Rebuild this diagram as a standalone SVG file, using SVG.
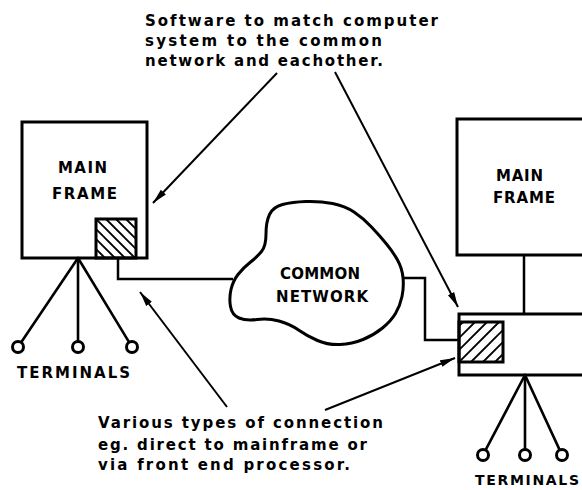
<svg xmlns="http://www.w3.org/2000/svg" width="582" height="490" viewBox="0 0 582 490">
  <style>
    .box { fill: none; stroke: #000; stroke-width: 3; }
    .wire { fill: none; stroke: #000; stroke-width: 2.5; stroke-linejoin: miter; }
    .leg { fill: none; stroke: #000; stroke-width: 2.6; stroke-linecap: round; }
    .term { fill: #fff; stroke: #000; stroke-width: 3; }
    .hatch { stroke: #000; stroke-width: 1.9; }
    .ptr { fill: none; stroke: #000; stroke-width: 2; }
    .lbl { font-family: "DejaVu Sans", "Liberation Sans", sans-serif; font-weight: bold; font-size: 15px; fill: #000; }
    .note { font-family: "DejaVu Sans", "Liberation Sans", sans-serif; font-weight: bold; font-size: 15px; fill: #000; }
  </style>
  <defs>
    <marker id="arrow" markerUnits="userSpaceOnUse" markerWidth="16" markerHeight="10" refX="15" refY="4" orient="auto">
      <path d="M0,0.5 L15,4 L0,7.5 Z" fill="#000"/>
    </marker>
    <clipPath id="clipLeftHatch"><rect x="96" y="219" width="40" height="39"/></clipPath>
    <clipPath id="clipRightHatch"><rect x="459" y="322" width="44" height="40"/></clipPath>
  </defs>

  <!-- left mainframe with its interface software block -->
  <g id="mainframe-left">
    <rect class="box" x="22" y="122" width="125" height="136"/>
    <text class="lbl" x="58" y="173" textLength="49" lengthAdjust="spacing">MAIN</text>
    <text class="lbl" x="52" y="199" textLength="65" lengthAdjust="spacing">FRAME</text>
  </g>
  <g id="interface-left">
    <g clip-path="url(#clipLeftHatch)">
      <line class="hatch" x1="56" y1="219" x2="96" y2="259"/>
      <line class="hatch" x1="66" y1="219" x2="106" y2="259"/>
      <line class="hatch" x1="76" y1="219" x2="116" y2="259"/>
      <line class="hatch" x1="86" y1="219" x2="126" y2="259"/>
      <line class="hatch" x1="96" y1="219" x2="136" y2="259"/>
      <line class="hatch" x1="106" y1="219" x2="146" y2="259"/>
      <line class="hatch" x1="116" y1="219" x2="156" y2="259"/>
      <line class="hatch" x1="126" y1="219" x2="166" y2="259"/>
    </g>
    <rect class="box" x="96" y="219" width="40" height="39"/>
  </g>

  <!-- left terminals -->
  <g id="terminals-left">
    <line class="leg" x1="78" y1="258" x2="21.4" y2="342"/>
    <line class="leg" x1="78" y1="258" x2="78" y2="341"/>
    <line class="leg" x1="78" y1="258" x2="128.9" y2="341.9"/>
    <circle class="term" cx="18" cy="347" r="5.5"/>
    <circle class="term" cx="78" cy="347" r="5.5"/>
    <circle class="term" cx="132" cy="347" r="5.5"/>
    <text class="lbl" x="17" y="378" textLength="113" lengthAdjust="spacing">TERMINALS</text>
  </g>

  <!-- common network cloud -->
  <g id="common-network">
    <path class="box" d="M 261.5 251.5 Q 266 246 266 234 Q 266 222 269.5 214.5 Q 273 207 282.5 204.5 Q 292 202 306 201.5 Q 320 201 332.5 203.5 Q 345 206 354 212 Q 363 218 371.5 227 Q 380 236 386.5 244 Q 393 252 397.5 260 Q 402 268 403 277.5 Q 404 287 402 296.5 Q 400 306 395.5 313.5 Q 391 321 382.5 328 Q 374 335 363 339.5 Q 352 344 340 344.5 Q 328 345 317.5 340.5 Q 307 336 298.5 330 Q 290 324 279 321 Q 268 318 257 319.5 Q 246 321 239 318 Q 232 315 230.5 306.5 Q 229 298 231 289.5 Q 233 281 238 274.5 Q 243 268 250 262.5 Q 257 257 261.5 251.5 Z"/>
    <text class="lbl" x="280" y="279" textLength="80" lengthAdjust="spacing">COMMON</text>
    <text class="lbl" x="276" y="302" textLength="92" lengthAdjust="spacing">NETWORK</text>
  </g>

  <!-- right mainframe -->
  <g id="mainframe-right">
    <rect class="box" x="457" y="119" width="140" height="136"/>
    <text class="lbl" x="496" y="181" textLength="47" lengthAdjust="spacing">MAIN</text>
    <text class="lbl" x="493" y="203" textLength="62" lengthAdjust="spacing">FRAME</text>
  </g>

  <!-- right front end processor with its interface software block -->
  <g id="front-end-processor">
    <rect class="box" x="459" y="314" width="140" height="61"/>
  </g>
  <g id="interface-right">
    <g clip-path="url(#clipRightHatch)">
      <line class="hatch" x1="423" y1="362" x2="463" y2="322"/>
      <line class="hatch" x1="435" y1="362" x2="475" y2="322"/>
      <line class="hatch" x1="447" y1="362" x2="487" y2="322"/>
      <line class="hatch" x1="459" y1="362" x2="499" y2="322"/>
      <line class="hatch" x1="471" y1="362" x2="511" y2="322"/>
      <line class="hatch" x1="483" y1="362" x2="523" y2="322"/>
      <line class="hatch" x1="495" y1="362" x2="535" y2="322"/>
    </g>
    <rect class="box" x="459" y="322" width="44" height="40"/>
  </g>

  <!-- right terminals -->
  <g id="terminals-right">
    <line class="leg" x1="525" y1="375" x2="485.8" y2="449.7"/>
    <line class="leg" x1="525" y1="375" x2="525" y2="449"/>
    <line class="leg" x1="525" y1="375" x2="559.5" y2="449.6"/>
    <circle class="term" cx="483" cy="455" r="5.5"/>
    <circle class="term" cx="525" cy="455" r="5.5"/>
    <circle class="term" cx="562" cy="455" r="5.5"/>
    <text class="lbl" x="475" y="485" textLength="104" lengthAdjust="spacing" style="font-size:14px">TERMINALS</text>
  </g>

  <!-- notes -->
  <g id="note-software">
    <text class="note" x="145" y="26" textLength="293" lengthAdjust="spacing">Software to match computer</text>
    <text class="note" x="145" y="46" textLength="237" lengthAdjust="spacing">system to the common</text>
    <text class="note" x="145" y="66" textLength="238" lengthAdjust="spacing">network and eachother.</text>
  </g>
  <g id="note-connection">
    <text class="note" x="98" y="428" textLength="285" lengthAdjust="spacing">Various types of connection</text>
    <text class="note" x="98" y="450" textLength="269" lengthAdjust="spacing">eg. direct to mainframe or</text>
    <text class="note" x="98" y="470" textLength="252" lengthAdjust="spacing">via front end processor.</text>
  </g>

  <!-- connectors -->
  <g id="connectors">
    <polyline class="wire" points="118,258 118,279 233,279"/>
    <polyline class="wire" points="403,278 425,278 425,340 459,340"/>
    <line class="wire" x1="524" y1="255" x2="524" y2="314"/>
    <line class="ptr" x1="277" y1="73" x2="153" y2="203" marker-end="url(#arrow)"/>
    <line class="ptr" x1="335" y1="72" x2="458" y2="307" marker-end="url(#arrow)"/>
    <line class="ptr" x1="227" y1="407" x2="140" y2="292" marker-end="url(#arrow)"/>
    <line class="ptr" x1="325" y1="410" x2="455" y2="358" marker-end="url(#arrow)"/>
  </g>
</svg>
